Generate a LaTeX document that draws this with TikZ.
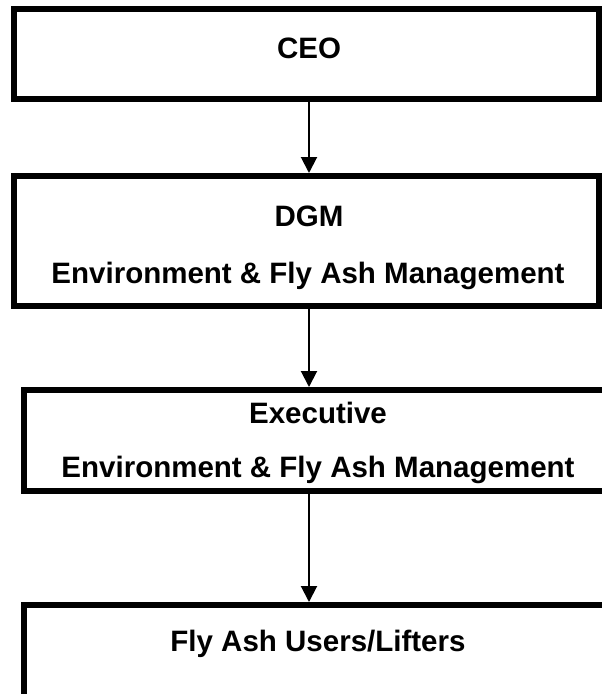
\documentclass[tikz,border=0pt]{standalone}
\usepackage{fontspec}
\setmainfont{Liberation Sans}
\usetikzlibrary{arrows.meta}
\begin{document}
\begin{tikzpicture}[x=1pt,y=-1pt,
  boxline/.style={draw=black, line width=6pt, rectangle, inner sep=0pt},
  lbl/.style={font=\fontsize{29.5}{35}\selectfont\bfseries, inner sep=0pt, anchor=base},
  conn/.style={line width=2pt, -{Triangle[length=16pt,width=16pt]}}]
\useasboundingbox (0,0) rectangle (602,694);
\clip (0,0) rectangle (602,694);
\fill[white] (0,0) rectangle (602,694);
\node[boxline, minimum width=585pt, minimum height=90.5pt] (ceo) at (306.5,53.75) {};
\node[boxline, minimum width=585pt, minimum height=130pt] (dgm) at (306.5,241) {};
\node[boxline, minimum width=588pt, minimum height=101pt] (exe) at (318,440.5) {};
\node[boxline, minimum width=588pt, minimum height=95pt] (usr) at (318,652.5) {};
\node[lbl] (t1) at (309,58) {CEO};
\node[lbl] (t2) at (309,226) {DGM};
\node[lbl] (t3) at (308,283) {Environment \& Fly Ash Management};
\node[lbl] (t4) at (318,423) {Executive};
\node[lbl] (t5) at (318,477) {Environment \& Fly Ash Management};
\node[lbl] (t6) at (318,651) {Fly Ash Users/Lifters};
\coordinate (ax) at (309,0);
\draw[conn] ([yshift=4pt]ceo.south -| ax) -- (dgm.north -| ax);
\draw[conn] ([yshift=4pt]dgm.south -| ax) -- (exe.north -| ax);
\draw[conn] ([yshift=4pt]exe.south -| ax) -- (usr.north -| ax);
\end{tikzpicture}
\end{document}
